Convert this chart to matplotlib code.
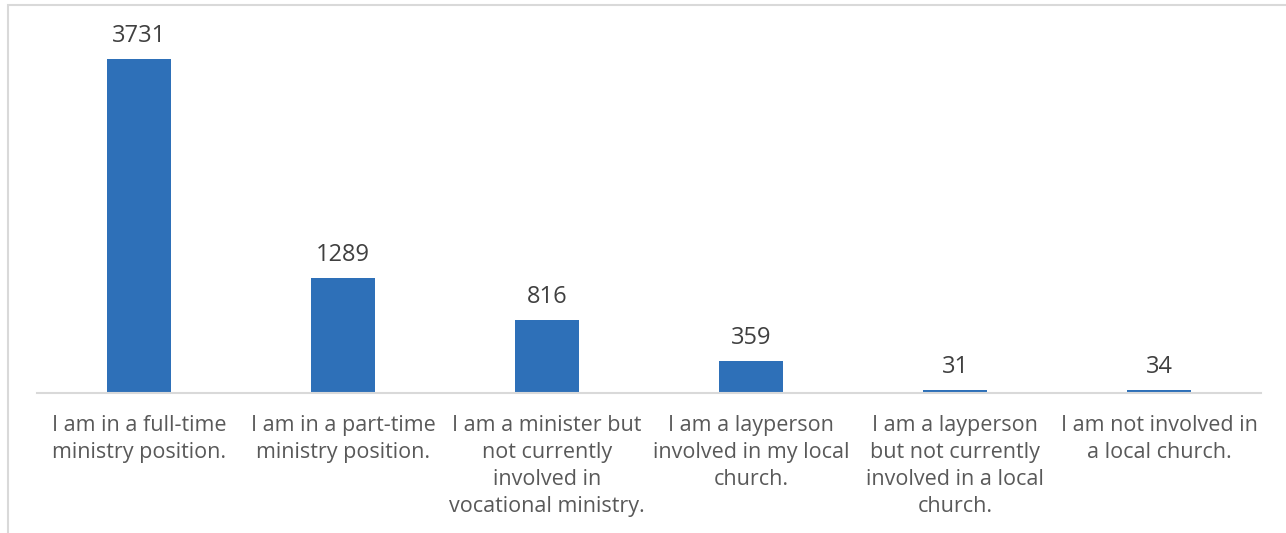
import matplotlib.pyplot as plt
from matplotlib.patches import Rectangle

# survey answers and their counts
labels = [
    "I am in a full-time\nministry position.",
    "I am in a part-time\nministry position.",
    "I am a minister but\nnot currently\ninvolved in\nvocational ministry.",
    "I am a layperson\ninvolved in my local\nchurch.",
    "I am a layperson\nbut not currently\ninvolved in a local\nchurch.",
    "I am not involved in\na local church.",
]
counts = [3731, 1289, 816, 359, 31, 34]

bar_color = "#2E70B8"
text_color = "#595959"
grid_color = "#D9D9D9"

plt.rcParams["font.family"] = ["Open Sans", "DejaVu Sans"]

fig = plt.figure(figsize=(12.86, 5.33), dpi=100)
ax = fig.add_axes([0.0288, 0.2627, 0.9518, 0.6716])

x = range(len(counts))
bars = ax.bar(x, counts, width=0.314, color=bar_color)
for b, v in zip(bars, counts):
    ax.annotate(str(v), (b.get_x() + b.get_width() / 2, v),
                xytext=(0, 8), textcoords="offset points",
                ha="center", va="bottom", fontsize=17, color="#404040")

ax.set_xlim(-0.5, len(counts) - 0.5)
ax.set_ylim(0, 4000)
ax.set_xticks(list(x))
ax.set_xticklabels(labels, fontsize=15.5, color=text_color, linespacing=1.38)
ax.tick_params(axis="x", length=0, pad=16)
ax.set_yticks([])
for s in ["top", "left", "right"]:
    ax.spines[s].set_visible(False)
ax.spines["bottom"].set_color(grid_color)
ax.spines["bottom"].set_linewidth(1.5)

# chart frame
fig.patches.append(Rectangle((8 / 1286, -0.1), 1.2, 1.1 - 5 / 533,
                             transform=fig.transFigure, fill=False,
                             edgecolor=grid_color, linewidth=1.5))

fig.savefig("out.png", dpi=100)
